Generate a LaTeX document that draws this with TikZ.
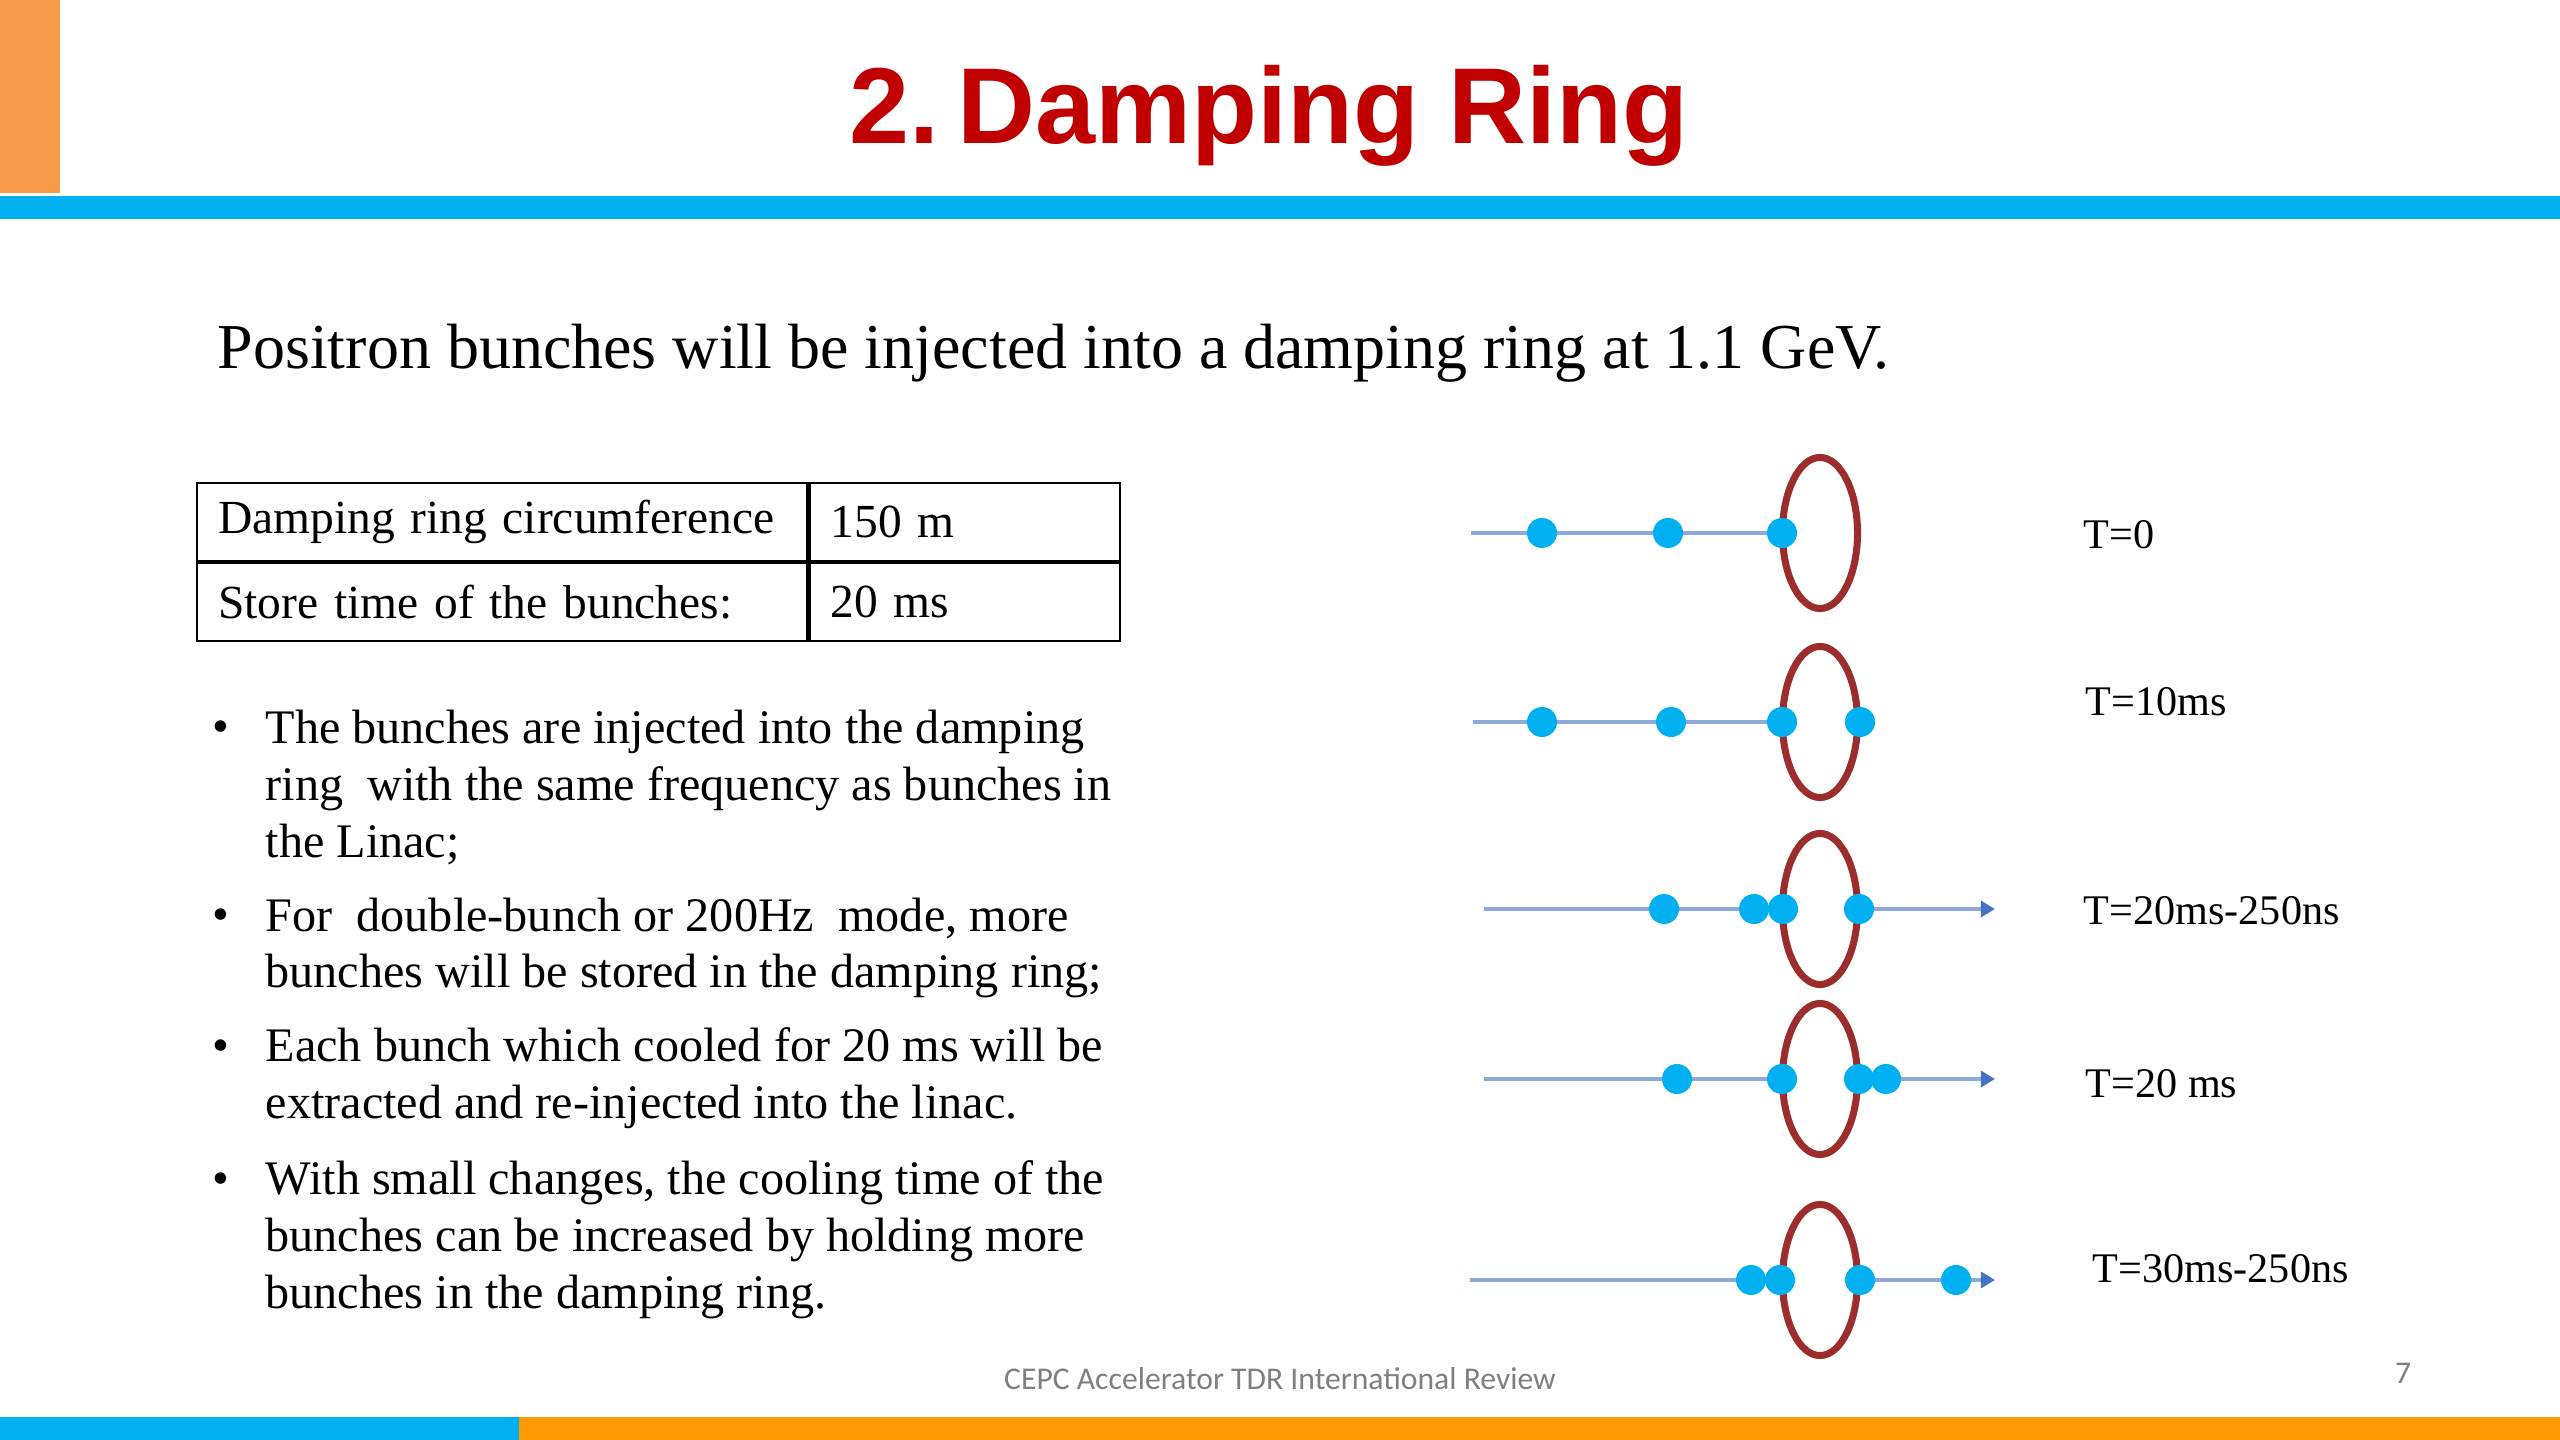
\documentclass[tikz,border=0pt]{standalone}
\usepackage{fontspec}
\setmainfont{Liberation Serif}
\newfontfamily\titlefont{Liberation Sans}
\newfontfamily\footfont{Carlito}
\usepackage{tikz}
\usetikzlibrary{shapes.geometric, arrows.meta, backgrounds}

\definecolor{slidered}{HTML}{C00000}
\definecolor{slideblue}{HTML}{00B0F0}
\definecolor{slideorange}{HTML}{FF9900}
\definecolor{tagorange}{HTML}{F9994A}
\definecolor{ringred}{HTML}{9B2D2D}
\definecolor{beamblue}{HTML}{8DA9DB}
\definecolor{tipblue}{HTML}{4472C4}
\definecolor{footgray}{HTML}{7F7F7F}

\tikzset{
  ring/.style={ellipse, draw=ringred, line width=2pt, inner sep=0pt,
    minimum width=0.75cm, minimum height=1.51cm},
  bunch/.style={circle, fill=slideblue, inner sep=0pt, minimum size=0.3cm},
  beam/.style={draw=beamblue, line width=1.1pt},
  beamout/.style={beam, -{Triangle[length=4pt, width=4.5pt, color=tipblue]}},
  tlabel/.style={anchor=west, inner sep=0pt, font=\fontsize{12}{14}\selectfont},
  cell/.style={draw, line width=0.6pt, anchor=north west, minimum height=0.78cm,
    inner xsep=0.21cm, inner ysep=0pt, align=left,
    font=\fontsize{13.5}{16.2}\selectfont},
  bulletmark/.style={anchor=base west, inner sep=0pt, font=\fontsize{13.7}{16.2}\selectfont},
  % base of a multi-line node is its last line
  itemtext/.style={anchor=base west, inner sep=0pt, align=left,
    font=\fontsize{13.7}{16.2}\selectfont},
}

\begin{document}
\begin{tikzpicture}[x=0.01cm, y=-0.01cm]
    \useasboundingbox (0,0) rectangle (2560,1440);

    % --- 1. slide frame: bars and title ---
    \fill[tagorange] (0,0) rectangle (60,193);
    \fill[slideblue] (0,196) rectangle (2560,219);
    \fill[slideblue] (0,1417) rectangle (519,1440);
    \fill[slideorange] (519,1417) rectangle (2560,1440);
    \node[anchor=base, inner sep=0pt, text=slidered,
      font=\titlefont\bfseries\fontsize{30.7}{36}\selectfont] (title) at (1269,144) {2.\,Damping Ring};
    \node[anchor=base west, inner sep=0pt,
      font=\fontsize{18.2}{22}\selectfont] (intro) at (217,369)
      {Positron bunches will be injected into a damping ring at 1.1 GeV.};

    % --- 2. parameter table ---
    \node[cell, text width=5.68cm] (circ) at (196,482) {Damping ring circumference};
    \node[cell, text width=2.68cm] (circval) at (circ.north east) {150 m};
    \node[cell, text width=5.68cm] (store) at (circ.south west) {Store time of the bunches:};
    \node[cell, text width=2.68cm] (storeval) at (store.north east) {20 ms};

    % --- 3. bullet list ---
    \node[bulletmark] (m1) at (212,743) {•};
    \node[itemtext] (b1) at (265,857) {The bunches are injected into the damping\\
      ring\ \ with the same frequency as bunches in\\ the Linac;};
    \node[bulletmark] (m2) at (212,931) {•};
    \node[itemtext] (b2) at (265,988) {For\ \ double-bunch or 200Hz\ \ mode, more\\
      bunches will be stored in the damping ring;};
    \node[bulletmark] (m3) at (212,1061) {•};
    \node[itemtext] (b3) at (265,1118) {Each bunch which cooled for 20 ms will be\\
      extracted and re-injected into the linac.};
    \node[bulletmark] (m4) at (212,1194) {•};
    \node[itemtext] (b4) at (265,1308) {With small changes, the cooling time of the\\
      bunches can be increased by holding more\\ bunches in the damping ring.};

    % --- 4. rings, one per time step ---
    \node[ring] (ring1) at (1820,533) {};
    \node[ring] (ring2) at (1820,722) {};
    \node[ring] (ring3) at (1820,909) {};
    \node[ring] (ring4) at (1820,1079) {};
    \node[ring] (ring5) at (1820,1280) {};

    % --- 5. bunches ---
    \node[bunch] (p11) at (1542,533) {};
    \node[bunch] (p12) at (1668,533) {};
    \node[bunch] (p13) at (1782,533) {};

    \node[bunch] (p21) at (1542,722) {};
    \node[bunch] (p22) at (1671,722) {};
    \node[bunch] (p23) at (1782,722) {};
    \node[bunch] (p24) at (1860,722) {};

    \node[bunch] (p31) at (1664,909) {};
    \node[bunch] (p32) at (1754,909) {};
    \node[bunch] (p33) at (1783,909) {};
    \node[bunch] (p34) at (1859,909) {};

    \node[bunch] (p41) at (1677,1079) {};
    \node[bunch] (p42) at (1782,1079) {};
    \node[bunch] (p43) at (1859,1079) {};
    \node[bunch] (p44) at (1886,1079) {};

    \node[bunch] (p51) at (1751,1280) {};
    \node[bunch] (p52) at (1780,1280) {};
    \node[bunch] (p53) at (1860,1280) {};
    \node[bunch] (p54) at (1956,1280) {};

    % --- 6. beam lines (behind the bunches) ---
    \coordinate (in1) at (1471,533);
    \coordinate (in2) at (1473,722);
    \coordinate (in3) at (1484,909);
    \coordinate (in4) at (1484,1079);
    \coordinate (in5) at (1470,1280);
    \coordinate (out3) at (1995,909);
    \coordinate (out4) at (1995,1079);
    \coordinate (out5) at (1995,1280);
    \begin{pgfonlayer}{background}
      \draw[beam] (in1) -- (p13.center);
      \draw[beam] (in2) -- (p23.center);
      \draw[beam] (in3) -- (p33.center);
      \draw[beamout] (p34.center) -- (out3);
      \draw[beam] (in4) -- (p42.center);
      \draw[beamout] (p43.center) -- (out4);
      \draw[beam] (in5) -- (p52.center);
      \draw[beamout] (p53.center) -- (out5);
    \end{pgfonlayer}

    % --- 7. time labels ---
    \node[tlabel] (t1) at (2083,535) {T=0};
    \node[tlabel] (t2) at (2085,702) {T=10ms};
    \node[tlabel] (t3) at (2083,911) {T=20ms-250ns};
    \node[tlabel] (t4) at (2085,1084) {T=20 ms};
    \node[tlabel] (t5) at (2092,1269) {T=30ms-250ns};

    % --- 8. footer ---
    \node[inner sep=0pt, text=footgray, font=\footfont\fontsize{9}{11}\selectfont]
      (foot) at (1280,1379) {CEPC Accelerator TDR International Review};
    \node[inner sep=0pt, text=footgray, font=\footfont\fontsize{9}{11}\selectfont]
      (page) at (2403,1373) {7};
\end{tikzpicture}
\end{document}
